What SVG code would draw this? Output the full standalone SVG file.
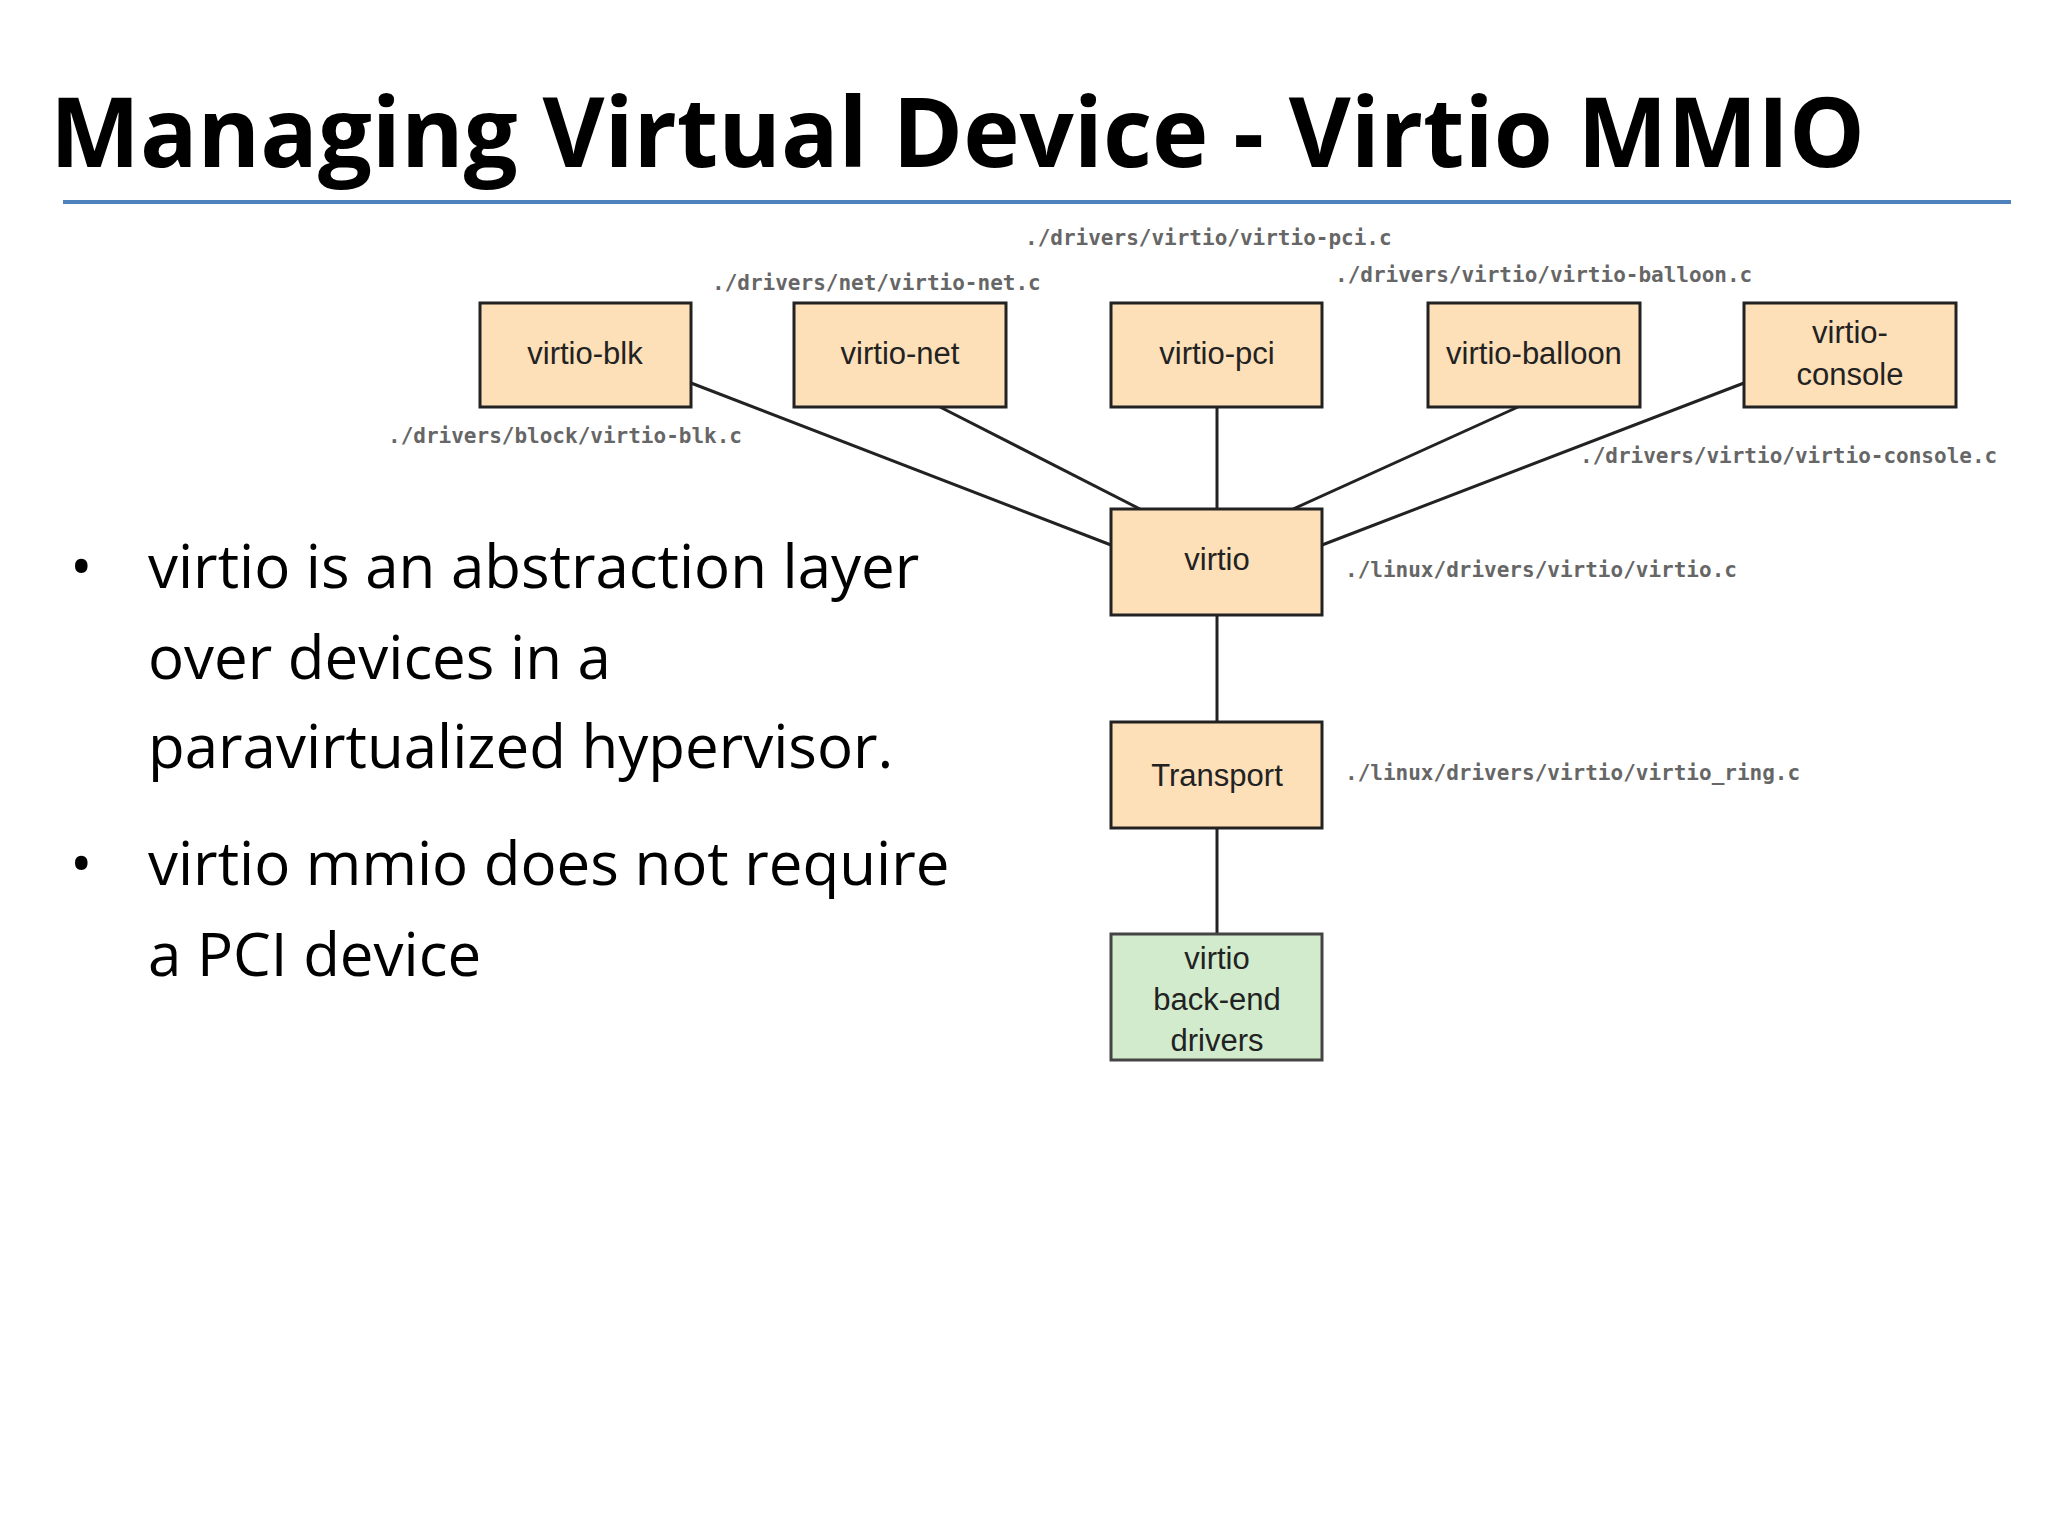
<svg xmlns="http://www.w3.org/2000/svg" width="2048" height="1536" viewBox="0 0 2048 1536">
<style>
.box{fill:#fddfb8;stroke:#222;stroke-width:3}
.green{fill:#d1ebcc;stroke:#444;stroke-width:3}
.bt{font-family:"Liberation Sans",Arial,sans-serif;font-size:31px;fill:#222;text-anchor:middle}
.lbl{font-family:"DejaVu Sans Mono","Liberation Mono",monospace;font-size:21px;font-weight:bold;fill:#666}
.bul{font-family:"Open Sans","Liberation Sans",sans-serif;font-size:60px;fill:#000}
.con{stroke:#222;stroke-width:3;fill:none}
</style>
<rect width="2048" height="1536" fill="#fff"/>
<text x="50" y="167" font-family="'Open Sans','Liberation Sans',sans-serif" font-weight="bold" font-size="96" textLength="1815" lengthAdjust="spacingAndGlyphs" fill="#000">Managing Virtual Device - Virtio MMIO</text>
<line x1="63" y1="202" x2="2011" y2="202" stroke="#4f81bd" stroke-width="4"/>
<g id="connectors">
<line class="con" x1="691" y1="383" x2="1111" y2="545"/>
<line class="con" x1="940" y1="407" x2="1140" y2="509"/>
<line class="con" x1="1217" y1="407" x2="1217" y2="509"/>
<line class="con" x1="1518" y1="407" x2="1293" y2="509"/>
<line class="con" x1="1744" y1="383" x2="1322" y2="545"/>
<line class="con" x1="1217" y1="615" x2="1217" y2="722"/>
<line class="con" x1="1217" y1="828" x2="1217" y2="934"/>
</g>
<g id="virtio-blk"><rect class="box" x="480" y="303" width="211" height="104"/><text class="bt" x="585" y="364">virtio-blk</text></g>
<g id="virtio-net"><rect class="box" x="794" y="303" width="212" height="104"/><text class="bt" x="900" y="364">virtio-net</text></g>
<g id="virtio-pci"><rect class="box" x="1111" y="303" width="211" height="104"/><text class="bt" x="1217" y="364">virtio-pci</text></g>
<g id="virtio-balloon"><rect class="box" x="1428" y="303" width="212" height="104"/><text class="bt" x="1534" y="364">virtio-balloon</text></g>
<g id="virtio-console"><rect class="box" x="1744" y="303" width="212" height="104"/><text class="bt" x="1850" y="343">virtio-</text><text class="bt" x="1850" y="385">console</text></g>
<g id="virtio"><rect class="box" x="1111" y="509" width="211" height="106"/><text class="bt" x="1217" y="570">virtio</text></g>
<g id="transport"><rect class="box" x="1111" y="722" width="211" height="106"/><text class="bt" x="1217" y="786">Transport</text></g>
<g id="backend"><rect class="green" x="1111" y="934" width="211" height="126"/><text class="bt" x="1217" y="969">virtio</text><text class="bt" x="1217" y="1010">back-end</text><text class="bt" x="1217" y="1051">drivers</text></g>
<g id="labels">
<text class="lbl" x="1025" y="245">./drivers/virtio/virtio-pci.c</text>
<text class="lbl" x="712" y="290">./drivers/net/virtio-net.c</text>
<text class="lbl" x="1335" y="282">./drivers/virtio/virtio-balloon.c</text>
<text class="lbl" x="388" y="443">./drivers/block/virtio-blk.c</text>
<text class="lbl" x="1580" y="463">./drivers/virtio/virtio-console.c</text>
<text class="lbl" x="1345" y="577">./linux/drivers/virtio/virtio.c</text>
<text class="lbl" x="1345" y="780">./linux/drivers/virtio/virtio_ring.c</text>
</g>
<g id="bullets" class="bul">
<text x="70" y="588">•</text>
<text x="148" y="588">virtio is an abstraction layer</text>
<text x="148" y="679">over devices in a</text>
<text x="148" y="768">paravirtualized hypervisor.</text>
<text x="70" y="885">•</text>
<text x="148" y="885">virtio mmio does not require</text>
<text x="148" y="976">a PCI device</text>
</g>
</svg>
